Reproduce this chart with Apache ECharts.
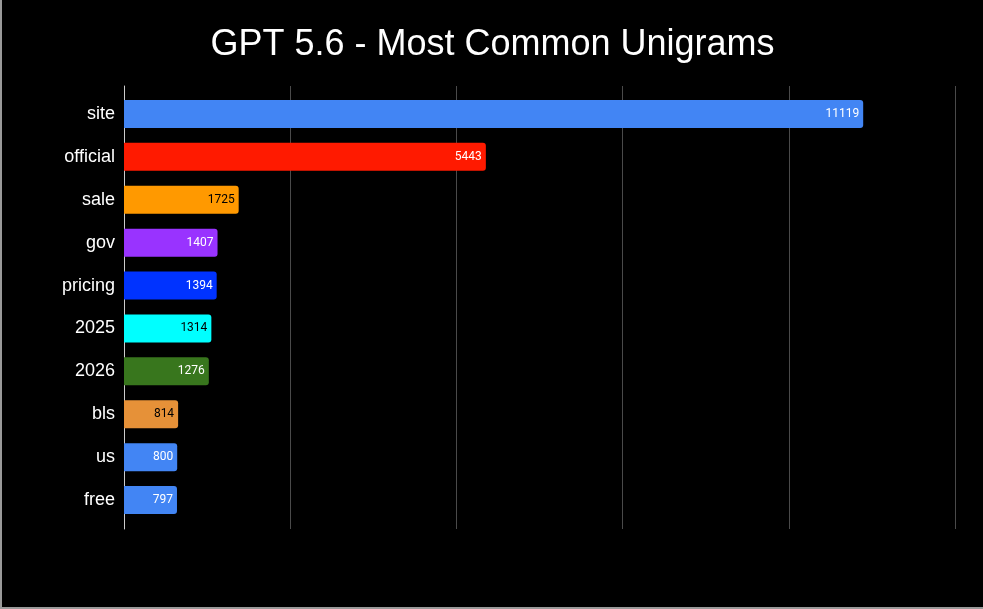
<!DOCTYPE html>
<html>
<head>
<meta charset="utf-8">
<script src="https://cdn.jsdelivr.net/npm/echarts@6/dist/echarts.min.js"></script>
<style>
  html, body { margin: 0; padding: 0; background: #000; }
  #chart { width: 983px; height: 609px; box-sizing: border-box; border-left: 2px solid #9a9a9a; border-bottom: 2px solid #9a9a9a; }
</style>
</head>
<body>
<div id="chart"></div>
<script>
const words = ["site", "official", "sale", "gov", "pricing", "2025", "2026", "bls", "us", "free"];
const counts = [11119, 5443, 1725, 1407, 1394, 1314, 1276, 814, 800, 797];
const barColors = ["#4285f4", "#ff1a00", "#ff9900", "#9933ff", "#0033ff", "#00ffff", "#38761d", "#e69138", "#4285f4", "#4285f4"];
const labelColors = ["#fff", "#fff", "#000", "#fff", "#fff", "#000", "#fff", "#000", "#fff", "#fff"];

const myChart = echarts.init(document.getElementById("chart"));

myChart.setOption({
  backgroundColor: "#000",
  animation: false,
  title: {
    text: "GPT 5.6 - Most Common Unigrams",
    left: "center",
    top: 22,
    textStyle: { color: "#fff", fontSize: 36, fontWeight: "normal", fontFamily: "Liberation Sans, Arial, sans-serif" },
  },
  // grid 0 = gridlines + axis line, grid 1 = bars (inset a bit like the original)
  grid: [
    { left: 122, right: 28, top: 86, bottom: 78 },
    { left: 122, right: 28, top: 92.5, bottom: 85.5 },
  ],
  xAxis: [
    {
      type: "value",
      gridIndex: 0,
      min: 0,
      max: 12500,
      interval: 2500,
      axisLabel: { show: false },
      axisLine: { show: false },
      axisTick: { show: false },
      splitLine: { lineStyle: { color: "#4a4a4a", width: 1 } },
    },
    {
      type: "value",
      gridIndex: 1,
      min: 0,
      max: 12500,
      interval: 2500,
      show: false,
    },
  ],
  yAxis: [
    {
      type: "value",
      gridIndex: 0,
      axisLabel: { show: false },
      axisTick: { show: false },
      splitLine: { show: false },
      axisLine: { show: true, lineStyle: { color: "#ccc", width: 1 } },
    },
    {
      type: "category",
      gridIndex: 1,
      data: words,
      inverse: true,
      axisTick: { show: false },
      axisLine: { show: false },
      axisLabel: { color: "#fff", fontSize: 18, margin: 9, fontFamily: "Liberation Sans, Arial, sans-serif" },
    },
  ],
  series: [
    {
      type: "bar",
      xAxisIndex: 1,
      yAxisIndex: 1,
      barWidth: 28,
      data: counts.map((v, i) => ({
        value: v,
        itemStyle: { color: barColors[i], borderRadius: [0, 3, 3, 0] },
        label: { color: labelColors[i] },
      })),
      label: {
        show: true,
        position: "insideRight",
        distance: 4,
        fontSize: 12,
        fontFamily: "Roboto, sans-serif",
      },
    },
  ],
});
</script>
</body>
</html>
